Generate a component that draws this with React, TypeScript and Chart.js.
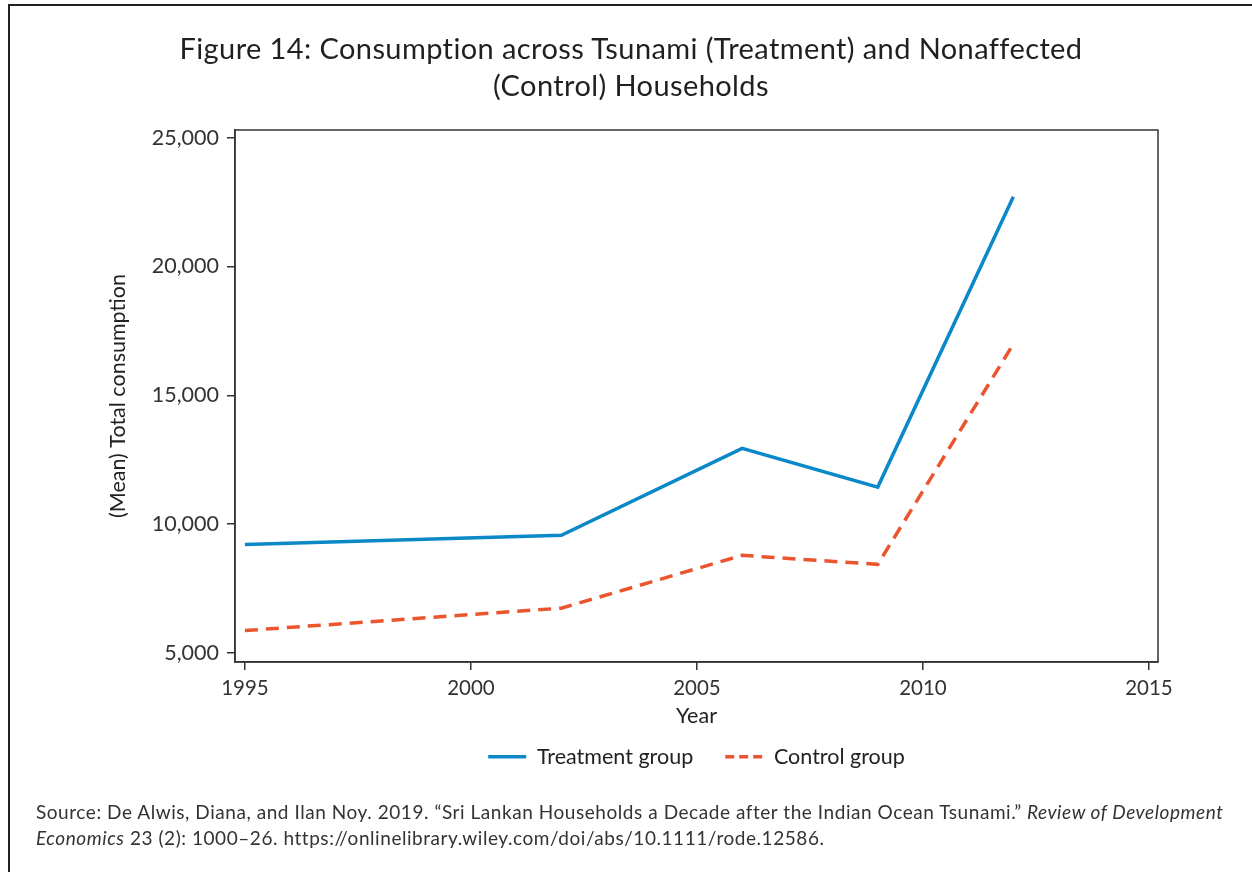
import React, { useEffect, useRef } from "react";
import { Chart, registerables } from "chart.js";

Chart.register(...registerables);

const YEARS = [1995, 2002, 2006, 2009, 2012];
const TREATMENT = [9210, 9570, 12940, 11440, 22710];
const CONTROL = [5870, 6740, 8790, 8440, 16990];
const X_TICKS = [1995, 2000, 2005, 2010, 2015];
const Y_TICKS = [5000, 10000, 15000, 20000, 25000];
const SERIES_NAMES = ["Treatment group", "Control group"];

const FONT = "Lato, 'Open Sans', sans-serif";
const INK = "#333333";
const BLUE = "#0a88c8";
const ORANGE = "#eb552e";

const framePlugin = {
  id: "frame",
  afterDatasetsDraw(chart: any) {
    const { ctx, chartArea: a } = chart;
    ctx.save();
    ctx.strokeStyle = INK;
    ctx.lineWidth = 1.5;
    ctx.strokeRect(a.left, a.top, a.right - a.left, a.bottom - a.top);
    ctx.restore();
  },
};

export default function App() {
  const ref = useRef<HTMLCanvasElement | null>(null);

  useEffect(() => {
    if (!ref.current) return;
    const chart = new Chart(ref.current, {
      type: "line",
      data: {
        datasets: [
          {
            label: SERIES_NAMES[0],
            data: YEARS.map((x, i) => ({ x, y: TREATMENT[i] })),
            borderColor: BLUE,
            backgroundColor: BLUE,
            borderWidth: 3.5,
            pointRadius: 0,
            tension: 0,
          },
          {
            label: SERIES_NAMES[1],
            data: YEARS.map((x, i) => ({ x, y: CONTROL[i] })),
            borderColor: ORANGE,
            backgroundColor: ORANGE,
            borderWidth: 3.5,
            borderDash: [13, 8],
            pointRadius: 0,
            tension: 0,
          },
        ],
      },
      options: {
        animation: false,
        responsive: false,
        layout: { padding: { left: 101, top: 130, right: 94, bottom: 94.5 } },
        scales: {
          x: {
            type: "linear",
            min: 1994.78,
            max: 2015.2,
            afterBuildTicks: (s: any) => {
              s.ticks = X_TICKS.map((v) => ({ value: v }));
            },
            afterFit: (s: any) => {
              s.height = 74;
            },
            ticks: {
              font: { family: FONT, size: 20.5 },
              color: INK,
              padding: 6,
              maxRotation: 0,
              callback: (v: any) => String(v),
            },
            grid: {
              drawOnChartArea: false,
              drawTicks: true,
              tickLength: 8,
              color: INK,
              lineWidth: 1.5,
            },
            border: { display: true, color: INK, width: 1.5 },
            title: {
              display: true,
              text: "Year",
              font: { family: FONT, size: 21.5 },
              color: "#222",
              padding: { top: 4, bottom: 7 },
            },
          },
          y: {
            type: "linear",
            min: 4650,
            max: 25300,
            afterBuildTicks: (s: any) => {
              s.ticks = Y_TICKS.map((v) => ({ value: v }));
            },
            afterFit: (s: any) => {
              s.width = 134;
            },
            ticks: {
              font: { family: FONT, size: 21.5 },
              color: INK,
              padding: 8,
              callback: (v: any) => Number(v).toLocaleString("en-US"),
            },
            grid: {
              drawOnChartArea: false,
              drawTicks: true,
              tickLength: 8,
              color: INK,
              lineWidth: 1.5,
            },
            border: { display: true, color: INK, width: 1.5 },
            title: {
              display: true,
              text: "(Mean) Total consumption",
              font: { family: FONT, size: 21.5 },
              color: "#222",
              padding: 4,
            },
          },
        },
        plugins: {
          title: { display: false },
          tooltip: { enabled: false },
          legend: {
            display: true,
            position: "bottom",
            fullSize: false,
            labels: {
              font: { family: FONT, size: 21.5 },
              color: "#222",
              usePointStyle: true,
              pointStyle: "line",
              pointStyleWidth: 38,
              padding: 10,
              generateLabels: (chart: any) => {
                const items = Chart.defaults.plugins.legend.labels.generateLabels(chart);
                return items.map((it: any, i: number) => ({
                  ...it,
                  text: i === 0 ? it.text + "\u00a0\u00a0\u00a0\u00a0" : it.text,
                  lineDash: i === 1 ? [9, 5] : [],
                  lineWidth: 3.5,
                }));
              },
            },
          },
        },
      },
      plugins: [framePlugin],
    });
    return () => chart.destroy();
  }, []);

  return (
    <div
      style={{
        position: "absolute",
        left: 0,
        top: 0,
        width: 1252,
        height: 872,
        background: "#fff",
        overflow: "hidden",
        fontFamily: FONT,
      }}
    >
      <div style={{ position: "absolute", left: 8, top: 4, width: 1244, height: 2, background: "#231f20" }} />
      <div style={{ position: "absolute", left: 8, top: 4, width: 2, height: 868, background: "#231f20" }} />
      <canvas ref={ref} width={1252} height={872} style={{ position: "absolute", left: 0, top: 0 }} />
      <div
        style={{
          position: "absolute",
          left: 10,
          width: 1242,
          top: 29,
          textAlign: "center",
          fontSize: 29,
          letterSpacing: "0.4px",
          lineHeight: "37px",
          color: "#231f20",
          whiteSpace: "nowrap",
        }}
      >
        Figure 14: Consumption across Tsunami (Treatment) and Nonaffected
        <br />
        (Control) Households
      </div>
      <div
        style={{
          position: "absolute",
          left: 36,
          top: 799,
          fontSize: 19,
          letterSpacing: "0.55px",
          lineHeight: "26px",
          color: "#333",
          whiteSpace: "nowrap",
        }}
      >
        Source: De Alwis, Diana, and Ilan Noy. 2019. “Sri Lankan Households a Decade after the Indian Ocean Tsunami.”{" "}
        <i>Review of Development</i>
        <br />
        <i>Economics</i> 23 (2): 1000–26. https://onlinelibrary.wiley.com/doi/abs/10.1111/rode.12586.
      </div>
    </div>
  );
}
